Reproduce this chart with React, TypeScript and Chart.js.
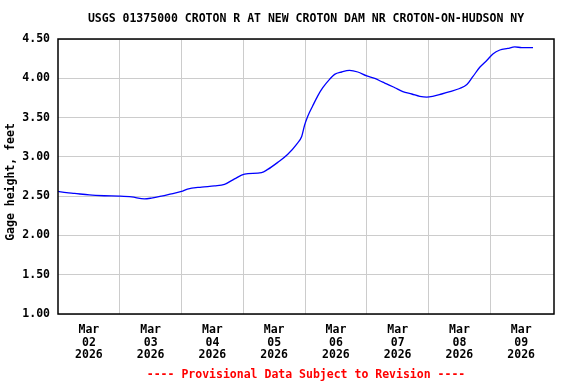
import React, { useEffect, useRef } from "react";
import { Chart, registerables } from "chart.js";

Chart.register(...registerables);

// Hours since Mar 02 2026 00:00
const hours = [0, 3.3, 6.4, 12.2, 18, 23.9, 28.6, 33.6, 36.3, 40.2, 44.1, 48, 50.3, 55.8, 60.8, 64.7, 68.6, 72.5, 79.1, 81.5, 85.4, 89.2, 92.7, 94.7, 95.8, 97.1, 99, 101, 102.9, 105.6, 107.5, 110.2, 113.3, 116.5, 120, 123.1, 126.2, 127.7, 130.9, 134, 137.5, 140.6, 143.3, 145.6, 149.1, 152.3, 156.1, 158.9, 161.2, 163.9, 166.7, 169, 171.7, 174.8, 177.5, 180.2, 184.6];
const gageHeight = [2.56, 2.545, 2.535, 2.515, 2.505, 2.5, 2.49, 2.465, 2.475, 2.5, 2.53, 2.56, 2.59, 2.615, 2.63, 2.65, 2.72, 2.78, 2.8, 2.84, 2.93, 3.03, 3.16, 3.26, 3.4, 3.52, 3.65, 3.78, 3.88, 3.99, 4.05, 4.08, 4.1, 4.08, 4.03, 4.0, 3.95, 3.93, 3.88, 3.83, 3.8, 3.77, 3.76, 3.77, 3.8, 3.83, 3.87, 3.92, 4.02, 4.14, 4.23, 4.31, 4.36, 4.38, 4.4, 4.39, 4.39];

const tickMonths = ["Mar", "Mar", "Mar", "Mar", "Mar", "Mar", "Mar", "Mar"];
const tickDays = ["02", "03", "04", "05", "06", "07", "08", "09"];
const tickYears = ["2026", "2026", "2026", "2026", "2026", "2026", "2026", "2026"];
const yTicks = [1.0, 1.5, 2.0, 2.5, 3.0, 3.5, 4.0, 4.5];

const titleText = "USGS 01375000 CROTON R AT NEW CROTON DAM NR CROTON-ON-HUDSON NY";
const footerText = "---- Provisional Data Subject to Revision ----";
const yTitle = "Gage height, feet";

const FONT = "'DejaVu Sans Mono', monospace";
const BOLD = "bold 11.5px 'DejaVu Sans Mono', monospace";

const framePlugin = {
  id: "frame",
  afterDraw(chart: any) {
    const { ctx, chartArea } = chart;
    const cx = (chartArea.left + chartArea.right) / 2;
    ctx.save();
    ctx.strokeStyle = "#000";
    ctx.lineWidth = 1.5;
    ctx.strokeRect(chartArea.left, chartArea.top, chartArea.right - chartArea.left, chartArea.bottom - chartArea.top);
    ctx.font = BOLD;
    ctx.textAlign = "center";
    ctx.textBaseline = "middle";
    ctx.fillStyle = "#000";
    ctx.fillText(titleText, cx, 19.5);
    ctx.fillStyle = "#ff0000";
    ctx.fillText(footerText, cx, 375.5);
    ctx.fillStyle = "#000";
    ctx.translate(11.5, 182);
    ctx.rotate(-Math.PI / 2);
    ctx.fillText(yTitle, 0, 0);
    ctx.restore();
  },
};

export default function App() {
  const ref = useRef<HTMLCanvasElement>(null);
  useEffect(() => {
    if (!ref.current) return;
    const chart = new Chart(ref.current, {
      type: "line",
      data: {
        datasets: [
          {
            data: hours.map((h, i) => ({ x: h, y: gageHeight[i] })),
            borderColor: "#0000ff",
            borderWidth: 1.3,
            pointRadius: 0,
            cubicInterpolationMode: "monotone",
            fill: false,
          },
        ],
      },
      options: {
        animation: false,
        responsive: false,
        devicePixelRatio: 1,
        layout: { padding: { left: 0, right: 22, top: 39, bottom: 0 } },
        plugins: {
          legend: { display: false },
          tooltip: { enabled: false },
          title: { display: false },
        },
        scales: {
          x: {
            type: "linear",
            min: 0,
            max: 192.75,
            afterBuildTicks: (scale: any) => {
              const t = [];
              for (let v = 0; v <= 192; v += 12) t.push({ value: v });
              scale.ticks = t;
            },
            afterFit: (scale: any) => {
              scale.height = 70;
            },
            border: { display: false },
            grid: {
              drawTicks: false,
              color: (ctx: any) => {
                const v = ctx.tick ? ctx.tick.value : 0;
                return v % 24 === 0 && v > 0 && v < 192 ? "#cccccc" : "rgba(0,0,0,0)";
              },
              lineWidth: 1,
            },
            ticks: {
              autoSkip: false,
              maxRotation: 0,
              padding: 9.5,
              color: "#000",
              font: { family: FONT, size: 11.5, weight: "bold", lineHeight: 1.113 },
              callback: (value: any) => {
                const v = Number(value);
                if (v % 24 !== 12) return "";
                const i = (v - 12) / 24;
                return [tickMonths[i], tickDays[i], tickYears[i]];
              },
            },
          },
          y: {
            min: 1,
            max: 4.5,
            afterBuildTicks: (scale: any) => {
              scale.ticks = yTicks.map((v) => ({ value: v }));
            },
            afterFit: (scale: any) => {
              scale.width = 58;
            },
            border: { display: false },
            grid: { drawTicks: false, color: "#cccccc", lineWidth: 1 },
            ticks: {
              padding: 8,
              color: "#000",
              font: { family: FONT, size: 11.5, weight: "bold" },
              callback: (value: any) => Number(value).toFixed(2),
            },
          },
        },
      },
      plugins: [framePlugin],
    } as any);
    return () => chart.destroy();
  }, []);
  return (
    <div style={{ position: "absolute", left: 0, top: 0, width: 576, height: 384, background: "#fff" }}>
      <canvas ref={ref} width={576} height={384} />
    </div>
  );
}
